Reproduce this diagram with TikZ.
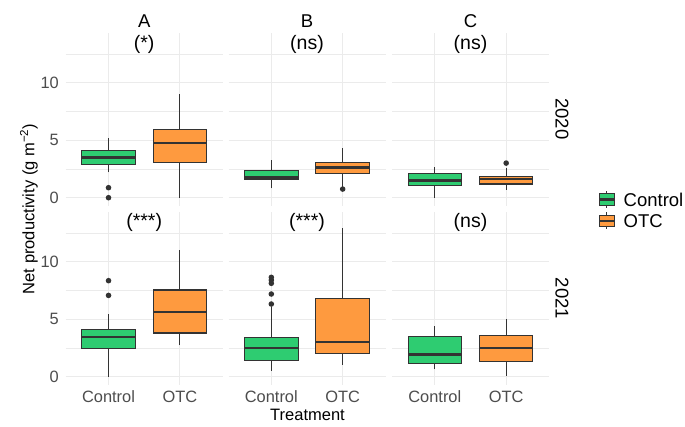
\documentclass[tikz,border=0pt]{standalone}
\usepackage{fontspec}
\setmainfont{Liberation Sans}
\definecolor{cgreen}{HTML}{2ECC71}
\definecolor{corange}{HTML}{FE9A3F}
\definecolor{cline}{HTML}{333333}
\definecolor{cgrid}{HTML}{EBEBEB}
\definecolor{ctick}{HTML}{4D4D4D}
\tikzset{
  whisk/.style={draw=cline, line width=1.1pt},
  boxline/.style={draw=cline, line width=1.1pt},
  medline/.style={draw=cline, line width=2.4pt},
  gridminor/.style={draw=cgrid, line width=0.55pt},
  gridmajor/.style={draw=cgrid, line width=1.1pt},
  outl/.style={fill=cline},
  ticklab/.style={text=ctick, font=\fontsize{16.4}{18}\selectfont, inner sep=0pt},
  axtitle/.style={text=black, font=\fontsize{16.5}{18}\selectfont, inner sep=0pt},
  striplab/.style={text=black, font=\fontsize{18.5}{20}\selectfont, inner sep=0pt},
  annot/.style={text=black, font=\fontsize{19.5}{22}\selectfont, inner sep=0pt},
  leglab/.style={text=black, font=\fontsize{18.5}{20}\selectfont, inner sep=0pt, anchor=west},
}
\newcommand{\bxplot}[7]{%
  \draw[whisk] (#1,#3) -- (#1,#4);
  \draw[whisk] (#1,#6) -- (#1,#7);
  \filldraw[boxline, fill=#2] ({#1-0.375},#4) rectangle ({#1+0.375},#6);
  \draw[medline] ({#1-0.375},#5) -- ({#1+0.375},#5);}
\newcommand{\outpt}[2]{\fill[outl] (#1,#2) circle (2.8pt);}
\newcommand{\panelgrid}{%
  \foreach \v in {2.5,7.5,12.5} \draw[gridminor] (0.4,\v) -- (2.6,\v);
  \foreach \v in {0,5,10} \draw[gridmajor] (0.4,\v) -- (2.6,\v);
  \foreach \c in {1,2} \draw[gridmajor] (\c,-0.68) -- (\c,14.28);}
\newcommand{\legkey}[3]{%
  \draw[whisk] (#1,{#2-8.5}) -- (#1,{#2+8.5});
  \filldraw[boxline, fill=#3] ({#1-7.4},{#2-5.6}) rectangle ({#1+7.4},{#2+5.6});
  \draw[medline] ({#1-7.4},#2) -- ({#1+7.4},#2);}
\begin{document}
\begin{tikzpicture}[x=1pt, y=-1pt]
\useasboundingbox (0,0) rectangle (685,426);
\fill[white] (0,0) rectangle (685,426);

% ---- top row (2020) ----
\begin{scope}[xshift=37.16pt, yshift=-197.7pt, x=71.36pt, y=11.5pt]
  \panelgrid
  \bxplot{1}{cgreen}{2.2}{2.9}{3.5}{4.14}{5.22}
  \outpt{1}{0.87}\outpt{1}{0}
  \bxplot{2}{corange}{0}{3.04}{4.78}{5.94}{8.99}
\end{scope}
\begin{scope}[xshift=199.96pt, yshift=-197.7pt, x=71.36pt, y=11.5pt]
  \panelgrid
  \bxplot{1}{cgreen}{0.81}{1.57}{1.77}{2.38}{3.25}
  \bxplot{2}{corange}{0.85}{2.14}{2.64}{3.07}{4.35}
  \outpt{2}{0.75}
\end{scope}
\begin{scope}[xshift=363.46pt, yshift=-197.7pt, x=71.36pt, y=11.5pt]
  \panelgrid
  \bxplot{1}{cgreen}{0}{1.07}{1.51}{2.09}{2.7}
  \bxplot{2}{corange}{0.7}{1.19}{1.62}{1.86}{2.55}
  \outpt{2}{3.01}
\end{scope}

% ---- bottom row (2021) ----
\begin{scope}[xshift=37.16pt, yshift=-376.7pt, x=71.36pt, y=11.5pt]
  \panelgrid
  \bxplot{1}{cgreen}{0}{2.43}{3.45}{4.12}{5.42}
  \outpt{1}{7.07}\outpt{1}{8.35}
  \bxplot{2}{corange}{2.72}{3.8}{5.62}{7.54}{11.04}
\end{scope}
\begin{scope}[xshift=199.96pt, yshift=-376.7pt, x=71.36pt, y=11.5pt]
  \panelgrid
  \bxplot{1}{cgreen}{0.52}{1.39}{2.52}{3.39}{6.1}
  \outpt{1}{6.32}\outpt{1}{7.19}\outpt{1}{8.12}\outpt{1}{8.4}\outpt{1}{8.64}
  \bxplot{2}{corange}{1.04}{2.03}{3.01}{6.78}{12.9}
\end{scope}
\begin{scope}[xshift=363.46pt, yshift=-376.7pt, x=71.36pt, y=11.5pt]
  \panelgrid
  \bxplot{1}{cgreen}{0.64}{1.16}{1.94}{3.48}{4.41}
  \bxplot{2}{corange}{0.06}{1.36}{2.52}{3.62}{5.04}
\end{scope}

% ---- strip labels ----
\node[striplab] (sA) at (144.2,21) {A};
\node[striplab] (sB) at (307,21) {B};
\node[striplab] (sC) at (470.5,21) {C};
\node[striplab, rotate=-90] (s2020) at (562,119) {2020};
\node[striplab, rotate=-90] (s2021) at (562,298.5) {2021};

% ---- annotations ----
\node[annot] (aA1) at (144.2,44) {(*)};
\node[annot] (aB1) at (307,44) {(ns)};
\node[annot] (aC1) at (470.5,44) {(ns)};
\node[annot] (aA2) at (144.2,222.6) {(***)};
\node[annot] (aB2) at (307,222.6) {(***)};
\node[annot] (aC2) at (470.5,222.6) {(ns)};

% ---- y tick labels ----
\foreach \v/\y in {0/197.7,5/140.2,10/82.7,0/376.7,5/319.2,10/261.7}
  \node[ticklab, anchor=east] at (59,\y) {\v};

% ---- x tick labels ----
\foreach \x in {108.5,271.3,434.8}
  \node[ticklab] at (\x,396.7) {Control};
\foreach \x in {179.9,342.7,506.2}
  \node[ticklab] at (\x,396.7) {OTC};

% ---- axis titles ----
\node[axtitle] (xt) at (307.5,415) {Treatment};
\node[axtitle, rotate=90] (yt) at (29,209) {Net productivity (g m\textsuperscript{−2})};

% ---- legend ----
\legkey{606.7}{199.5}{cgreen}
\legkey{606.7}{220.8}{corange}
\node[leglab] (lc) at (623.5,199.5) {Control};
\node[leglab] (lo) at (623.5,220.8) {OTC};
\end{tikzpicture}
\end{document}
